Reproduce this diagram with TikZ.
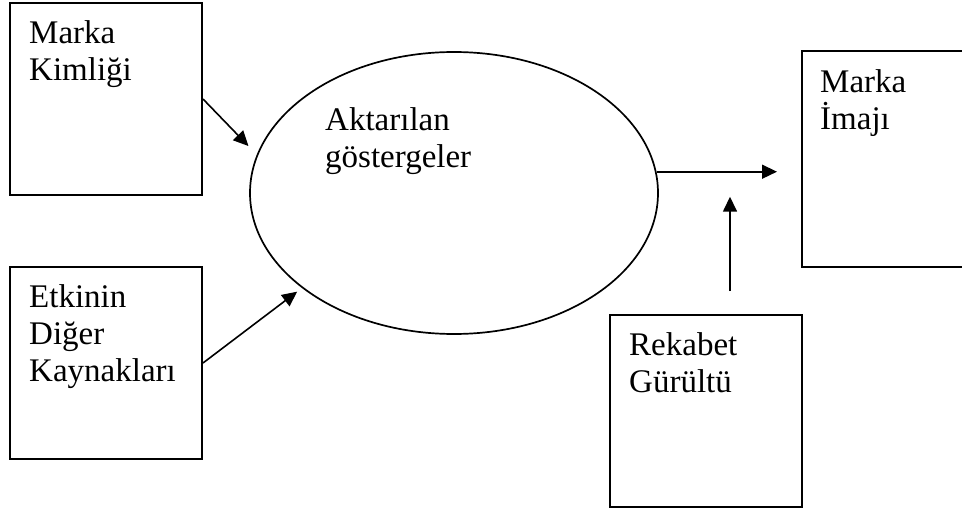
\documentclass[tikz,border=0pt]{standalone}
\usepackage{fontspec}
\setmainfont{Liberation Serif}
\usetikzlibrary{arrows.meta,shapes.geometric}

\begin{document}
\begin{tikzpicture}[x=1pt,y=-1pt,
	box/.style={draw,line width=2pt,minimum width=192pt,minimum height=192pt,inner sep=0pt},
	lbl/.style={anchor=north west,align=left,inner sep=0pt,font=\fontsize{33}{37}\selectfont},
	arr/.style={line width=1.6pt,-{Triangle[length=15pt,width=14pt]}}]
			%%%%% START %%%%%
			
			\path[use as bounding box,clip] (0,0) rectangle (962,508);
			
			\node[box] (kimlik) at (106,99) {};
			\node[box] (kaynak) at (106,363) {};
			\node[box,minimum height=216pt] (imaj) at (898,159) {};
			\node[box] (rekabet) at (706,411) {};
			\node[draw,ellipse,line width=1.7pt,minimum width=408pt,minimum height=282pt,inner sep=0pt] (gosterge) at (454,193) {};
			
			\node[lbl] (kimliktxt) at ([shift={(20,18)}]kimlik.north west) {Marka\\Kimliği};
			\node[lbl] (kaynaktxt) at ([shift={(20,18)}]kaynak.north west) {Etkinin\\Diğer\\Kaynakları};
			\node[lbl] (imajtxt) at ([shift={(19,19)}]imaj.north west) {Marka\\İmajı};
			\node[lbl] (rekabettxt) at ([shift={(20,18)}]rekabet.north west) {Rekabet\\Gürültü};
			\node[lbl] (gostergetxt) at ([shift={(-129,56)}]gosterge.north) {Aktarılan\\göstergeler};
			
			\coordinate (gurultu) at ([xshift=24pt,yshift=23pt]rekabet.north);
			
			\draw[arr,shorten >=12pt] (kimlik.east) -- (gosterge.169);
			\draw[arr,shorten >=6pt] (kaynak.east) -- (gosterge.212);
			\draw[arr,shorten >=24pt] (gosterge.6) -- (gosterge.6 -| imaj.west);
			\draw[arr,shorten >=25pt] (gurultu) -- (gurultu |- gosterge.6);
			
			%%%%% END %%%%%
\end{tikzpicture}
\end{document}
